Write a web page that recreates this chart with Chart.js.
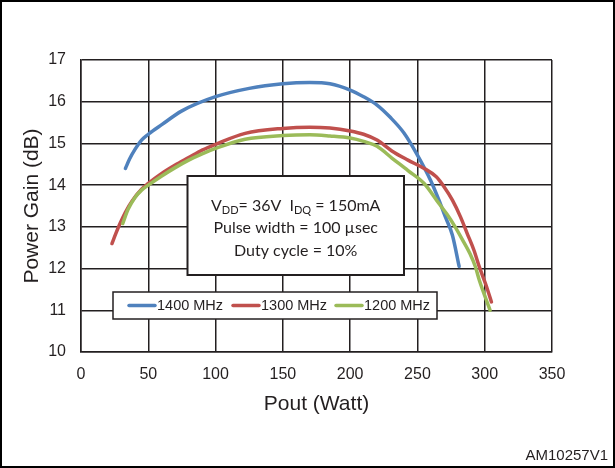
<!DOCTYPE html>
<html>
<head>
<meta charset="utf-8">
<script src="https://cdn.jsdelivr.net/npm/chart.js@4.4.1/dist/chart.umd.min.js"></script>
<style>
  body { margin: 0; background: #fff; }
  canvas { display: block; }
</style>
</head>
<body>
<canvas id="gainChart" width="615" height="468"></canvas>
<script>
// Pout (W) and power gain (dB)
const pout1400 = [33, 36, 40, 45, 50, 60, 75, 100, 125, 150, 170, 185, 200, 210, 220, 230, 240, 250, 260, 266, 271, 276, 281];
const gain1400 = [14.4, 14.62, 14.85, 15.08, 15.22, 15.45, 15.78, 16.12, 16.32, 16.43, 16.46, 16.43, 16.28, 16.12, 15.92, 15.62, 15.25, 14.72, 14.1, 13.64, 13.22, 12.8, 12.05];

const pout1300 = [23, 26, 29, 33, 38, 45, 50, 60, 70, 80, 90, 100, 122, 150, 170, 185, 200, 210, 220, 231, 243, 255, 264, 270, 276, 282, 287, 292, 296, 301, 305];
const gain1300 = [12.6, 12.85, 13.08, 13.35, 13.62, 13.9, 14.04, 14.28, 14.48, 14.66, 14.84, 14.98, 15.24, 15.36, 15.39, 15.37, 15.3, 15.22, 15.08, 14.82, 14.6, 14.4, 14.2, 13.95, 13.64, 13.24, 12.84, 12.44, 12.04, 11.6, 11.2];

const pout1200 = [31, 35, 40, 45, 50, 60, 70, 80, 90, 100, 122, 150, 170, 185, 200, 210, 220, 231, 243, 255, 266, 272, 278, 284, 289, 293, 296, 300, 304];
const gain1200 = [13.08, 13.42, 13.7, 13.88, 14.0, 14.22, 14.42, 14.6, 14.75, 14.88, 15.1, 15.19, 15.21, 15.18, 15.13, 15.05, 14.93, 14.65, 14.35, 14.04, 13.56, 13.3, 13.0, 12.66, 12.36, 12.05, 11.72, 11.35, 11.0];

const seriesLabels = ['1400 MHz', '1300 MHz', '1200 MHz'];
const seriesColors = ['#4f81bd', '#c0504d', '#9bbb59'];

const xTicks = [0, 50, 100, 150, 200, 250, 300, 350];
const yTicks = [10, 11, 12, 13, 14, 15, 16, 17];

const gridColor = '#231f20';
const sansFont = "'Liberation Sans', Arial, sans-serif";

function toPoints(xs, ys) {
  return xs.map((x, i) => ({ x: x, y: ys[i] }));
}

// white page, outer frame and figure code
const framePlugin = {
  id: 'frame',
  beforeDraw(chart) {
    const c = chart.ctx;
    c.save();
    c.fillStyle = '#fff';
    c.fillRect(0, 0, chart.width, chart.height);
    c.restore();
  },
  afterDraw(chart) {
    const c = chart.ctx;
    c.save();
    c.strokeStyle = '#000';
    c.lineWidth = 2;
    c.strokeRect(1, 1, chart.width - 2, chart.height - 2);
    c.fillStyle = '#231f20';
    c.font = '15px ' + sansFont;
    c.textAlign = 'right';
    c.textBaseline = 'alphabetic';
    c.fillText('AM10257V1', 608, 460);
    c.restore();
  }
};

// legend box and condition box, both sit inside the plot
const boxesPlugin = {
  id: 'boxes',
  afterDatasetsDraw(chart) {
    const c = chart.ctx;
    c.save();

    // legend
    c.fillStyle = '#fff';
    c.fillRect(113, 292, 324, 27);
    c.strokeStyle = gridColor;
    c.lineWidth = 1.5;
    c.strokeRect(113, 292, 324, 27);
    const itemX = [129, 233, 336];
    c.font = '14.5px ' + sansFont;
    c.textBaseline = 'middle';
    c.textAlign = 'left';
    seriesLabels.forEach((lab, i) => {
      c.strokeStyle = seriesColors[i];
      c.lineWidth = 3.5;
      c.lineCap = 'round';
      c.beginPath();
      c.moveTo(itemX[i], 305.5);
      c.lineTo(itemX[i] + 26, 305.5);
      c.stroke();
      c.fillStyle = '#231f20';
      c.fillText(lab, itemX[i] + 28, 306);
    });

    // test conditions
    c.fillStyle = '#fff';
    c.fillRect(187.5, 176, 216.5, 99);
    c.strokeStyle = gridColor;
    c.lineWidth = 2;
    c.strokeRect(187.5, 176, 216.5, 99);

    const cx = 295.7;
    const big = "16px Lato, 'Open Sans', sans-serif";
    const small = "11px Lato, 'Open Sans', sans-serif";
    c.fillStyle = '#231f20';
    c.textBaseline = 'alphabetic';

    const parts = [
      ['V', big, 0], ['DD', small, 3], ['= 36V  I', big, 0], ['DQ', small, 3], [' = 150mA', big, 0]
    ];
    let total = 0;
    parts.forEach(p => { c.font = p[1]; total += c.measureText(p[0]).width; });
    let px = cx - total / 2;
    c.textAlign = 'left';
    parts.forEach(p => {
      c.font = p[1];
      c.fillText(p[0], px, 210.5 + p[2]);
      px += c.measureText(p[0]).width;
    });

    c.font = big;
    c.textAlign = 'center';
    c.fillText('Pulse width = 100 \u00b5sec', cx, 233);
    c.fillText('Duty cycle = 10%', cx, 256);

    c.restore();
  }
};

const ctx = document.getElementById('gainChart').getContext('2d');

new Chart(ctx, {
  type: 'scatter',
  data: {
    datasets: [
      { label: seriesLabels[0], data: toPoints(pout1400, gain1400), borderColor: seriesColors[0], order: 3 },
      { label: seriesLabels[1], data: toPoints(pout1300, gain1300), borderColor: seriesColors[1], order: 2 },
      { label: seriesLabels[2], data: toPoints(pout1200, gain1200), borderColor: seriesColors[2], order: 1 }
    ]
  },
  options: {
    responsive: false,
    animation: false,
    devicePixelRatio: 1,
    layout: { padding: { top: 60, right: 63, left: 0, bottom: 0 } },
    datasets: {
      scatter: {
        showLine: true,
        borderWidth: 3.5,
        pointRadius: 0,
        cubicInterpolationMode: 'monotone',
        borderCapStyle: 'round'
      }
    },
    plugins: {
      legend: { display: false },
      tooltip: { enabled: false }
    },
    scales: {
      x: {
        type: 'linear',
        min: xTicks[0],
        max: xTicks[xTicks.length - 1],
        afterFit(scale) { scale.height = 116; },
        afterBuildTicks(scale) { scale.ticks = xTicks.map(v => ({ value: v })); },
        grid: { color: gridColor, lineWidth: 1.5, drawTicks: false },
        border: { color: gridColor, width: 1.5 },
        ticks: { color: '#231f20', padding: 13, font: { family: sansFont, size: 16 } },
        title: {
          display: true,
          text: 'Pout (Watt)',
          color: '#231f20',
          font: { family: sansFont, size: 21 },
          padding: { top: 0, bottom: 51 }
        }
      },
      y: {
        type: 'linear',
        min: yTicks[0],
        max: yTicks[yTicks.length - 1],
        afterFit(scale) { scale.width = 81; },
        afterBuildTicks(scale) { scale.ticks = yTicks.map(v => ({ value: v })); },
        grid: { color: gridColor, lineWidth: 1.5, drawTicks: false },
        border: { color: gridColor, width: 1.5 },
        ticks: { color: '#231f20', padding: 15, font: { family: sansFont, size: 16 } },
        title: {
          display: true,
          text: 'Power Gain (dB)',
          color: '#231f20',
          font: { family: sansFont, size: 21 },
          padding: { top: 20, bottom: 0 }
        }
      }
    }
  },
  plugins: [framePlugin, boxesPlugin]
});
</script>
</body>
</html>
